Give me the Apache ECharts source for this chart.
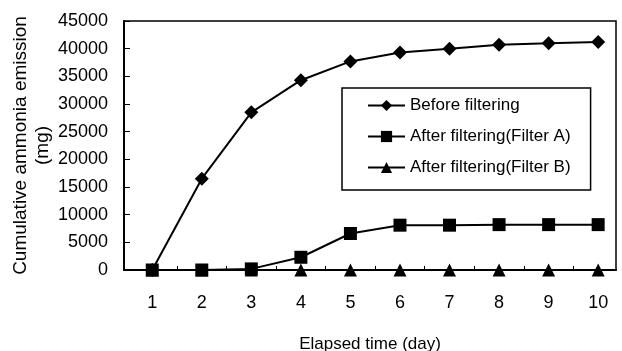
<!DOCTYPE html>
<html><head><meta charset="utf-8">
<script src="https://cdn.jsdelivr.net/npm/echarts@6/dist/echarts.min.js"></script>
<style>html,body{margin:0;padding:0;background:#fff}#c{width:622px;height:351px}</style>
</head><body><div id="c"></div>
<script>
const days = [1, 2, 3, 4, 5, 6, 7, 8, 9, 10];
const beforeFiltering = [0, 16500, 28500, 34300, 37700, 39300, 40000, 40700, 41000, 41200];
const filterA = [0, 0, 200, 2300, 6600, 8100, 8100, 8200, 8200, 8200];
const filterB = [0, 0, 0, 0, 0, 0, 0, 0, 0, 0];
const seriesNames = ['Before filtering', 'After filtering(Filter A)', 'After filtering(Filter B)'];
const tickMids = [1.5, 2.5, 3.5, 4.5, 5.5, 6.5, 7.5, 8.5, 9.5];

const font = 'Liberation Sans, Arial, sans-serif';
function pairs(arr){ return days.map((d,i)=>[d, arr[i]]); }
function mkSeries(name, data, symbol, size){
  return {name, type:'line', data:pairs(data), symbol, symbolSize:size,
    lineStyle:{color:'#000', width:2}, itemStyle:{color:'#000'}, animation:false};
}
const chart = echarts.init(document.getElementById('c'), null, {renderer:'canvas'});
chart.setOption({
  animation:false,
  backgroundColor:'#fff',
  grid:{left:124, right:6, top:21, bottom:81, show:true, borderColor:'#000', borderWidth:1.5,
    containLabel:false, outerBoundsMode:'none'},
  xAxis:{type:'value', min:0.43, max:10.36,
    name:'Elapsed time (day)', nameLocation:'middle', nameGap:66,
    nameTextStyle:{fontFamily:font, fontSize:17, color:'#000'},
    axisLine:{lineStyle:{color:'#000', width:2}},
    axisTick:{inside:true, length:4, customValues:tickMids, lineStyle:{color:'#000'}},
    axisLabel:{customValues:days, fontFamily:font, fontSize:18, color:'#000', margin:24},
    splitLine:{show:false}},
  yAxis:{type:'value', min:0, max:45000, interval:5000,
    name:'Cumulative ammonia emission\n(mg)', nameLocation:'middle', nameGap:70, nameMoveOverlap:false,
    nameTextStyle:{fontFamily:font, fontSize:19, color:'#000', lineHeight:22},
    axisLine:{show:true, lineStyle:{color:'#000', width:2}},
    axisTick:{inside:true, length:6, lineStyle:{color:'#000'}},
    axisLabel:{fontFamily:font, fontSize:18, color:'#000', margin:16, formatter:v=>String(v)},
    splitLine:{show:false}},
  legend:{orient:'vertical', left:342, top:88, data:seriesNames,
    itemWidth:37, itemHeight:14, itemGap:14,
    padding:[9, 20, 14, 25], borderColor:'#000', borderWidth:1.5,
    textStyle:{fontFamily:font, fontSize:17, color:'#000'}},
  series:[
    mkSeries(seriesNames[0], beforeFiltering, 'diamond', 14),
    mkSeries(seriesNames[1], filterA, 'rect', 13),
    mkSeries(seriesNames[2], filterB, 'triangle', 13)
  ]
});
</script></body></html>
